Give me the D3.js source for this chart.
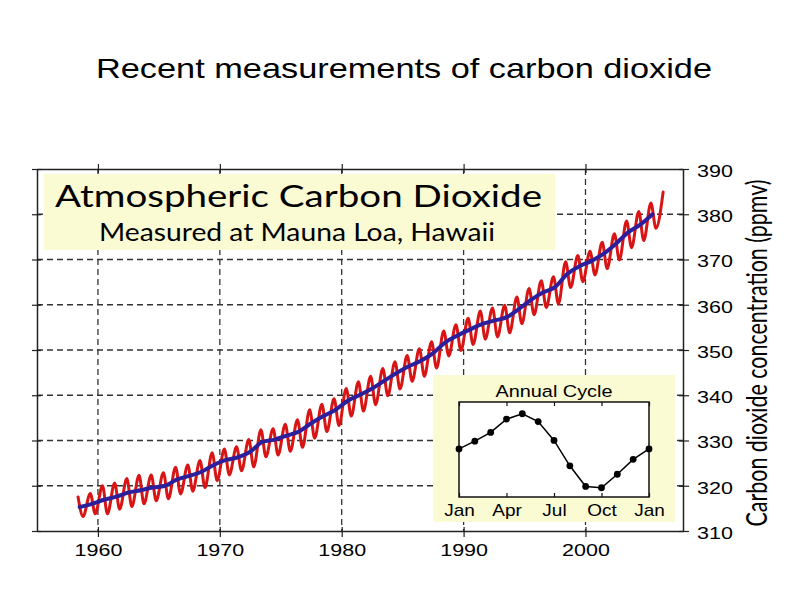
<!DOCTYPE html>
<html>
<head>
<meta charset="utf-8">
<script src="https://cdn.jsdelivr.net/npm/d3@7"></script>
<style>
  body { margin: 0; background: #fff; }
  svg { display: block; }
</style>
</head>
<body>
<div id="chart"></div>
<script>
const pageTitle = 'Recent measurements of carbon dioxide'
const boxTitle = 'Atmospheric Carbon Dioxide'
const boxSubtitle = 'Measured at Mauna Loa, Hawaii'
const axisTitle = 'Carbon dioxide concentration (ppmv)'

const firstYear = 1958
// May maximum of each year, 1958-2006 (ppmv)
const mayPeaks = [317.5, 318.3, 320.0, 320.6, 321.6, 322.3, 322.4, 322.9, 324.1, 324.6,
  325.6, 327.3, 328.1, 328.6, 330.2, 332.4, 332.6, 333.6, 334.6, 336.8,
  338.0, 339.2, 341.5, 343.0, 344.2, 345.9, 347.4, 348.8, 350.3, 351.8,
  354.2, 355.6, 357.0, 358.6, 359.3, 359.9, 361.7, 363.6, 365.3, 366.2,
  369.5, 370.9, 371.8, 373.8, 375.7, 378.5, 380.6, 382.5, 384.9]
// autumn minimum of each year, 1958-2005 (ppmv)
const autumnLows = [313.2, 313.8, 313.8, 314.8, 315.4, 316.0, 316.7, 317.1, 318.2, 318.8,
  319.6, 321.1, 322.4, 323.3, 324.2, 326.4, 326.8, 327.6, 328.5, 330.5,
  332.0, 333.3, 335.4, 336.5, 337.9, 339.9, 341.4, 343.1, 344.2, 346.0,
  348.7, 349.9, 351.2, 352.4, 352.9, 353.8, 355.8, 357.8, 359.4, 360.2,
  363.8, 365.1, 366.6, 368.0, 369.9, 372.6, 374.2, 376.9]
// annual mean, 1958-2005 (ppmv)
const annualMeans = [315.3, 316.0, 316.9, 317.6, 318.5, 319.0, 319.6, 320.0, 321.4, 322.2,
  323.1, 324.6, 325.7, 326.3, 327.5, 329.7, 330.2, 331.1, 332.0, 333.8,
  335.4, 336.8, 338.8, 340.1, 341.5, 343.2, 344.9, 346.4, 347.6, 349.3,
  351.7, 353.2, 354.5, 355.7, 356.5, 357.2, 359.0, 361.0, 362.7, 363.9,
  366.8, 368.5, 369.7, 371.3, 373.5, 376.0, 377.7, 380.0]

const yearTicks = [1960, 1970, 1980, 1990, 2000]
const ppmTicks = [310, 320, 330, 340, 350, 360, 370, 380, 390]

// annual cycle inset: departure from the yearly mean (ppmv), Jan..Jan
const cycleMonths = ['Jan', 'Feb', 'Mar', 'Apr', 'May', 'Jun', 'Jul', 'Aug', 'Sep', 'Oct', 'Nov', 'Dec', 'Jan']
const cycleValues = [0, 0.66, 1.41, 2.54, 3.0, 2.33, 0.72, -1.44, -3.2, -3.31, -2.16, -0.89, 0]
const cycleTickLabels = ['Jan', 'Apr', 'Jul', 'Oct', 'Jan']

const arial = 'Liberation Sans, Arial, sans-serif'
const calibri = 'Lato, Carlito, Calibri, sans-serif'
const red = '#d81414'
const blue = '#2c1f9c'
const paleYellow = '#fafad3'

let svg = d3.select('#chart').append('svg')
  .attr('width', 794)
  .attr('height', 595)

let frame = {left: 37, right: 683, top: 169, bottom: 531}
let x = d3.scaleLinear().domain([1955, 2008]).range([frame.left, frame.right])
let y = d3.scaleLinear().domain([310, 390]).range([frame.bottom, frame.top])

svg.append('text')
  .attr('x', 96)
  .attr('y', 78)
  .attr('font-family', arial)
  .attr('font-size', 28)
  .attr('textLength', 616)
  .attr('lengthAdjust', 'spacingAndGlyphs')
  .text(pageTitle)

// dashed grid
let grid = svg.append('g')
  .attr('stroke', '#333')
  .attr('stroke-width', 1.3)
  .attr('stroke-dasharray', '6,4')
grid.selectAll('.gx').data(yearTicks).enter()
  .append('line')
  .attr('x1', d => x(d)).attr('x2', d => x(d))
  .attr('y1', frame.top).attr('y2', frame.bottom)
grid.selectAll('.gy').data(ppmTicks.slice(1, -1)).enter()
  .append('line')
  .attr('x1', frame.left).attr('x2', frame.right)
  .attr('y1', d => y(d)).attr('y2', d => y(d))

// title box
svg.append('rect')
  .attr('x', 44).attr('y', 174)
  .attr('width', 511).attr('height', 76)
  .attr('fill', paleYellow)
svg.append('text')
  .attr('x', 55).attr('y', 206.5)
  .attr('font-family', calibri)
  .attr('font-size', 30)
  .attr('textLength', 487)
  .attr('lengthAdjust', 'spacingAndGlyphs')
  .text(boxTitle)
svg.append('text')
  .attr('x', 99).attr('y', 241)
  .attr('font-family', calibri)
  .attr('font-size', 24.5)
  .attr('textLength', 396)
  .attr('lengthAdjust', 'spacingAndGlyphs')
  .text(boxSubtitle)

// monthly record: May peaks and autumn lows joined smoothly
let monthly = []
mayPeaks.forEach((v, i) => {
  monthly.push([firstYear + i + 0.37, v])
  if (i < autumnLows.length) monthly.push([firstYear + i + 0.78, autumnLows[i]])
})
let yearly = annualMeans.map((v, i) => [firstYear + i + 0.5, v])

let line = d3.line()
  .x(d => x(d[0]))
  .y(d => y(d[1]))

svg.append('path')
  .datum(monthly)
  .attr('d', line.curve(d3.curveMonotoneX))
  .attr('fill', 'none')
  .attr('stroke', red)
  .attr('stroke-width', 3)
  .attr('stroke-linecap', 'round')

svg.append('path')
  .datum(yearly)
  .attr('d', line.curve(d3.curveMonotoneX))
  .attr('fill', 'none')
  .attr('stroke', blue)
  .attr('stroke-width', 4)
  .attr('stroke-linecap', 'round')
  .attr('stroke-linejoin', 'round')

// annual cycle inset
let inset = {left: 459, right: 649, top: 402, bottom: 497}
let xm = d3.scaleLinear().domain([0, 12]).range([inset.left, inset.right])
let ym = d3.scaleLinear().domain([-4.1, 4.0]).range([inset.bottom, inset.top])

svg.append('rect')
  .attr('x', 433).attr('y', 375)
  .attr('width', 242).attr('height', 147)
  .attr('fill', paleYellow)
svg.append('rect')
  .attr('x', inset.left).attr('y', inset.top)
  .attr('width', inset.right - inset.left)
  .attr('height', inset.bottom - inset.top)
  .attr('fill', '#fff')
  .attr('stroke', '#111')
  .attr('stroke-width', 1.5)
svg.append('text')
  .attr('x', (inset.left + inset.right) / 2)
  .attr('y', 396.5)
  .attr('text-anchor', 'middle')
  .attr('font-family', arial)
  .attr('font-size', 16.3)
  .attr('textLength', 117)
  .attr('lengthAdjust', 'spacingAndGlyphs')
  .text('Annual Cycle')

let cycleTicks = cycleTickLabels.map((d, i) => i * 3)
svg.append('g')
  .attr('transform', `translate(0,${inset.bottom})`)
  .call(d3.axisBottom(xm).tickValues(cycleTicks)
    .tickFormat((d, i) => cycleTickLabels[i])
    .tickSizeInner(-4).tickSizeOuter(0).tickPadding(6.5))
  .call(g => g.select('.domain').remove())
  .call(g => g.selectAll('.tick line').attr('stroke', '#111').attr('stroke-width', 1.2))
  .call(g => g.selectAll('text')
    .attr('font-family', arial).attr('font-size', 17).attr('fill', '#000')
    .attr('transform', 'scale(1.12,1)'))
svg.append('g')
  .attr('transform', `translate(0,${inset.top})`)
  .call(d3.axisTop(xm).tickValues(cycleTicks).tickFormat('')
    .tickSizeInner(-4).tickSizeOuter(0))
  .call(g => g.select('.domain').remove())
  .call(g => g.selectAll('.tick line').attr('stroke', '#111').attr('stroke-width', 1.2))

let cycleLine = d3.line()
  .x((d, i) => xm(i))
  .y(d => ym(d))
svg.append('path')
  .datum(cycleValues)
  .attr('d', cycleLine)
  .attr('fill', 'none')
  .attr('stroke', '#000')
  .attr('stroke-width', 1.5)
svg.selectAll('.cycle-dot')
  .data(cycleValues)
  .enter()
  .append('circle')
  .attr('class', 'cycle-dot')
  .attr('cx', (d, i) => xm(i))
  .attr('cy', d => ym(d))
  .attr('r', 3.4)
  .attr('fill', '#000')
  .append('title').text((d, i) => cycleMonths[i])

// frame with ticks on all four sides
let styleAxis = g => {
  g.select('.domain').attr('stroke', '#222').attr('stroke-width', 1.5)
  g.selectAll('.tick line').attr('stroke', '#222').attr('stroke-width', 1.2)
}

svg.append('g')
  .attr('transform', `translate(0,${frame.bottom})`)
  .call(d3.axisBottom(x).tickValues(yearTicks).tickFormat(d3.format('d'))
    .tickSizeInner(6).tickSizeOuter(0).tickPadding(7.3))
  .call(styleAxis)
  .call(g => g.selectAll('.tick line').attr('y1', -4))
  .call(g => g.selectAll('text')
    .attr('font-family', arial).attr('font-size', 16.3).attr('fill', '#000')
    .attr('transform', 'scale(1.32,1)'))

svg.append('g')
  .attr('transform', `translate(0,${frame.top})`)
  .call(d3.axisTop(x).tickValues(yearTicks).tickFormat('')
    .tickSizeInner(5).tickSizeOuter(0))
  .call(styleAxis)
  .call(g => g.selectAll('.tick line').attr('y1', 4))

svg.append('g')
  .attr('transform', `translate(${frame.left},0)`)
  .call(d3.axisLeft(y).tickValues(ppmTicks).tickFormat('')
    .tickSizeInner(5).tickSizeOuter(0))
  .call(styleAxis)
  .call(g => g.selectAll('.tick line').attr('x1', 4))

svg.append('g')
  .attr('transform', `translate(${frame.right},0)`)
  .call(d3.axisRight(y).tickValues(ppmTicks)
    .tickSizeInner(6).tickSizeOuter(0).tickPadding(4.6))
  .call(styleAxis)
  .call(g => g.selectAll('.tick line').attr('x1', -4))
  .call(g => g.selectAll('text')
    .attr('font-family', arial).attr('font-size', 16.3).attr('fill', '#000')
    .attr('dy', '0.45em')
    .attr('transform', 'scale(1.32,1)'))

svg.append('text')
  .attr('transform', 'translate(766.5,353) rotate(-90) scale(1,1.3)')
  .attr('text-anchor', 'middle')
  .attr('font-family', calibri)
  .attr('font-size', 22)
  .attr('textLength', 347)
  .attr('lengthAdjust', 'spacingAndGlyphs')
  .text(axisTitle)
</script>
</body>
</html>
